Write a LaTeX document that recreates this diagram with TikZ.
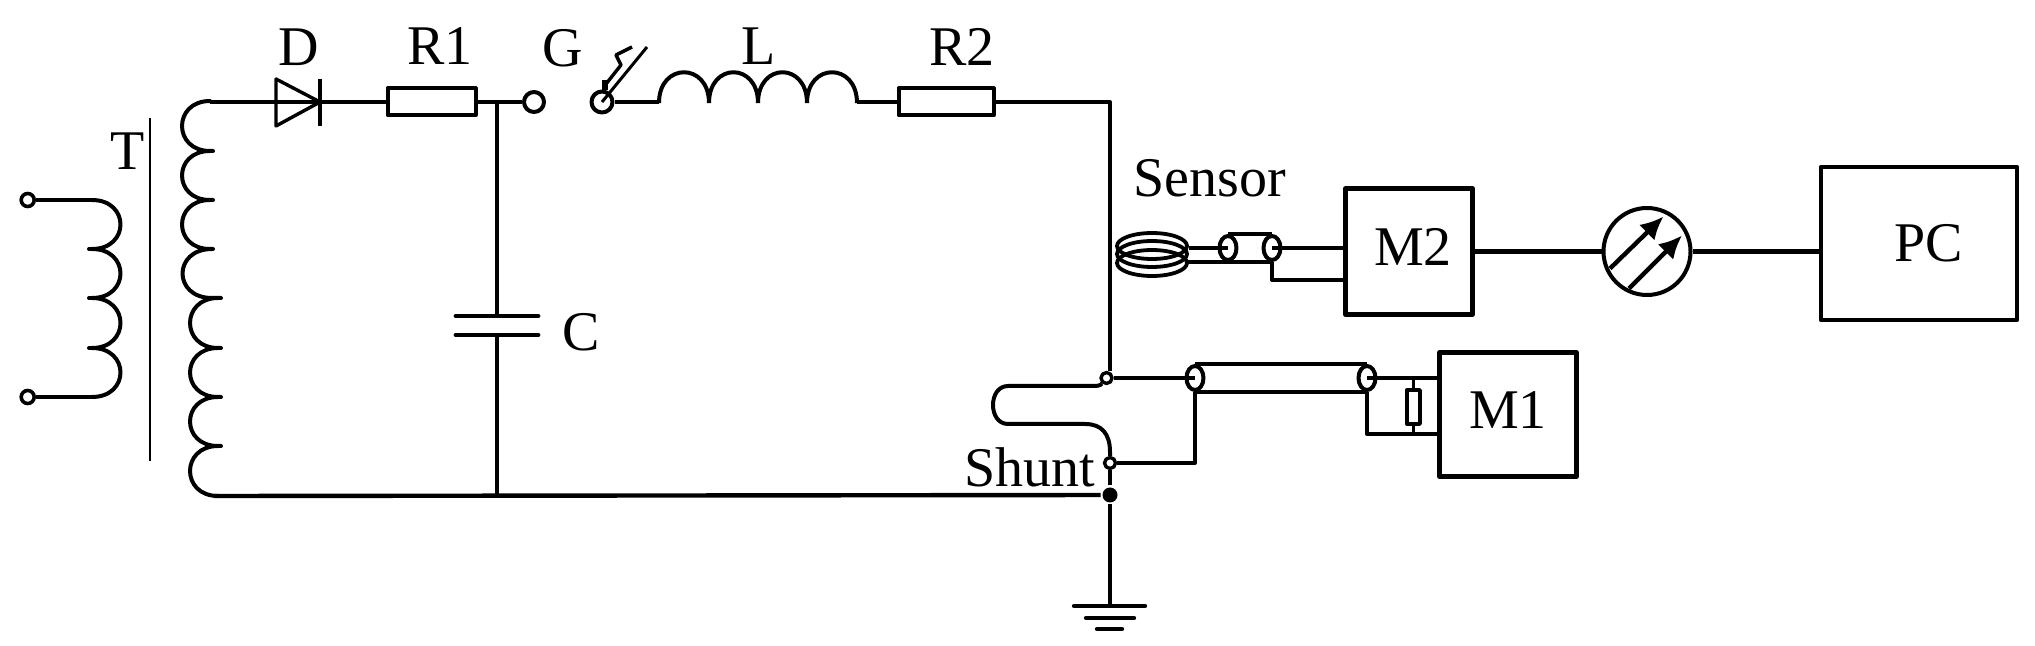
\documentclass[tikz,border=0pt]{standalone}
\usepackage{fontspec}
\setmainfont{Liberation Serif}
\usetikzlibrary{calc,arrows.meta,shapes.geometric}

\begin{document}
\begin{tikzpicture}[x=0.5pt, y=-0.5pt, line width=2pt, line join=round,
lbl/.style={inner sep=0pt, font=\fontsize{28}{30}\selectfont},
block/.style={rectangle, draw, line width=2.4pt, inner sep=0pt},
res/.style={rectangle, draw, inner sep=0pt, minimum width=#1},
term/.style={circle, draw, fill=white, inner sep=0pt, minimum size=#1},
cable/.style={ellipse, draw, inner sep=0pt, minimum width=8.5pt, minimum height=12pt},
turn/.style={ellipse, draw, line width=1.9pt, inner sep=0pt, minimum width=35pt, minimum height=13pt},]
 \useasboundingbox (0,0) rectangle (2035,646);

 \node[term=6.5pt, line width=1.8pt] (inA) at (27.7,200) {};
 \node[term=6.5pt, line width=1.8pt] (inB) at (27.7,397) {};
 \node[res=44pt, minimum height=13.5pt] (R1) at (431.5,102) {};
 \node[term=10pt, right of=R1, node distance=51.25pt] (gapL) {};
 \node[term=10.5pt, right of=gapL, node distance=34pt] (gapR) {};
 \node[res=47.5pt, minimum height=13.5pt, right of=gapR, node distance=172pt] (R2) {};
 \node[coordinate] (corner) at (1110,102) {};
 \node[term=5.5pt, line width=1.7pt] (tap) at (1106.5,378) {};
 \node[term=5.5pt, line width=1.7pt] (shunt) at (1110,463) {};
 \node[circle, fill=black, inner sep=0pt, minimum size=7.5pt] (dot) at (1110,495) {};
 \node[coordinate] (gnd) at (1110,606) {};
 \node[coordinate] (capA) at (497,316) {};
 \node[coordinate] (capB) at (497,335) {};
 \node[coordinate] (capTop) at (497,102) {};
 \node[coordinate] (capBot) at (497,496) {};
 \node[coordinate] (diodeA) at (276,102) {};
 \node[coordinate] (diodeK) at (320,102) {};

 \node[block, minimum width=63.5pt, minimum height=63pt] (M2) at (1409,251.5) {};
 \node[circle, draw, inner sep=0pt, minimum size=43.5pt, right of=M2, node distance=119pt] (gauge) {};
 \node[block, minimum width=98pt, minimum height=76.5pt] (PC) at (1919,243.5) {};
 \node[block, minimum width=68.5pt, minimum height=62pt] (M1) at (1508,414.5) {};

 \node[cable] (sensL) at (1228,248) {};
 \node[cable] (sensR) at (1272,248) {};
 \node[cable] (shuntL) at (1195,378) {};
 \node[cable] (shuntR) at (1367,378) {};
 \node[res=6.5pt, line width=1.7pt, minimum height=17pt] (Rm) at (1413.5,407) {};
 \foreach \i/\y in {1/246,2/254,3/263}
  \node[turn] (coil\i) at (1152,\y) {};

 \node[lbl] (labT) at (128,151) {T};
 \node[lbl] (labD) at (299,47) {D};
 \node[lbl] (labR1) at (440,46) {R1};
 \node[lbl] (labG) at (563,48) {G};
 \node[lbl] (labL) at (759,46) {L};
 \node[lbl] (labR2) at (962,47) {R2};
 \node[lbl] (labC) at (581,332) {C};
 \node[lbl] (labSensor) at (1210,178) {Sensor};
 \node[lbl] (labShunt) at (1030,467) {Shunt};
 \node[lbl] (labM2) at (1413,247) {M2};
 \node[lbl] (labM1) at (1508,410) {M1};
 \node[lbl] (labPC) at (1929,243) {PC};

 \draw (inA) -- (92,200);
 \draw (inB) -- (92,397);
 \foreach \ya/\yb in {200/249,249/298,298/348,348/397}
  \draw[line cap=round] (92,\ya) .. controls (130,\ya) and (130,\yb) .. (92,\yb);
 \draw[line cap=round] (89,249) -- (92,249) (89,298) -- (92,298) (89,348) -- (92,348);
 \draw[line width=1.4pt] (150,118) -- (150,461);
 \foreach \ya/\yb/\xb/\xc/\xe in {101/151/210/172.7/213,151/200/210/172.7/213,200/249/210/172.7/213,249/298/212/172.7/221,298/348/218/180.7/221,348/397/218/180.7/221,397/446/218/180.7/221,446/496/218/180.7/218}
  \draw[line cap=round] (\xb,\ya) .. controls (\xc,\ya) and (\xc,\yb) .. (\xb,\yb) -- (\xe,\yb);

 \draw (210,102) -- (diodeA);
 \draw[line width=1.7pt] (276,79) -- (diodeK) -- (276,126) -- cycle;
 \draw[line width=1.7pt] (320,79) -- (320,126);
 \draw (diodeA) -- (diodeK) -- (R1);
 \draw (R1) -- (gapL);
 \draw (capTop) -- (capA);
 \draw[line width=2.4pt, line cap=round] (456,316) -- (538,316);
 \draw[line width=2.4pt, line cap=round] (456,335) -- (538,335);
 \draw (capB) -- (capBot);

 \draw (gapR) -- (659,102);
 \draw[line width=1.5pt] (gapR.center) -- (647,47);
 \draw[line width=1.7pt] (632,47) -- (616,55) -- (621,65) -- (606,84);
 \draw[line width=3.2pt] (605,80) -- (605,90);
 \foreach \xa/\xb in {659/709,709/758,758/807,807/857}
  \draw (\xa,103) .. controls (\xa,62) and (\xb,62) .. (\xb,103);
 \draw (857,102) -- (R2);
 \draw (R2) -- (corner) -- (corner |- tap.north);

 \draw (tap) .. controls (1100,386) and (1097,386) .. (1090,386) -- (1008,386) .. controls (988,386) and (988,424) .. (1008,424) -- (1085,424) .. controls (1102,424) and (1110,434) .. (1110,452) -- (shunt);
 \draw (shunt) -- (dot);
 \draw[line width=2.2pt] (214,496) -- (dot);
 \draw (dot) -- (gnd);
 \draw[line width=2.2pt, line cap=round] (1074,606) -- (1145,606);
 \draw[line width=2.2pt, line cap=round] (1086,618) -- (1134,618);
 \draw[line width=2.2pt, line cap=round] (1097,629) -- (1122,629);

 \draw[line width=2.2pt] (tap) -- (shuntL.center);
 \draw (shuntL.north) -- (shuntR.north);
 \draw (shuntL.south) -- (shuntR.south);
 \draw[line width=2.2pt] (shuntR.center) -- (shuntR.center -| M1.west);
 \draw (shuntL.south) |- (shunt);
 \draw (shuntR.south) |- (1439,434) node[coordinate] (M1in) {};
 \draw[line width=1.7pt] (Rm.north) -- (Rm.north |- shuntR);
 \draw[line width=1.7pt] (Rm.south) -- (Rm.south |- M1in);

 \draw (coil1.east |- sensL) -- (sensL.center);
 \draw (1186,262) -- (sensR.south);
 \draw (sensL.north) -- (sensR.north);
 \draw[line width=2.2pt] (sensR.center) -- (sensR.center -| M2.west);
 \draw (sensR.south) |- (1345,280);

 \draw[line width=2.2pt] (M2) -- (gauge);
 \draw[line width=2.2pt] (gauge) -- (gauge -| PC.west);
 \draw[line width=2.2pt, -{Latex[length=11.5pt,width=11pt]}] ($(gauge)+(-37,17)$) -- ($(gauge)+(16.5,-35)$);
 \draw[line width=2.2pt, -{Latex[length=11.5pt,width=11pt]}] ($(gauge)+(-18,37)$) -- ($(gauge)+(35,-16)$);
\end{tikzpicture}
\end{document}
